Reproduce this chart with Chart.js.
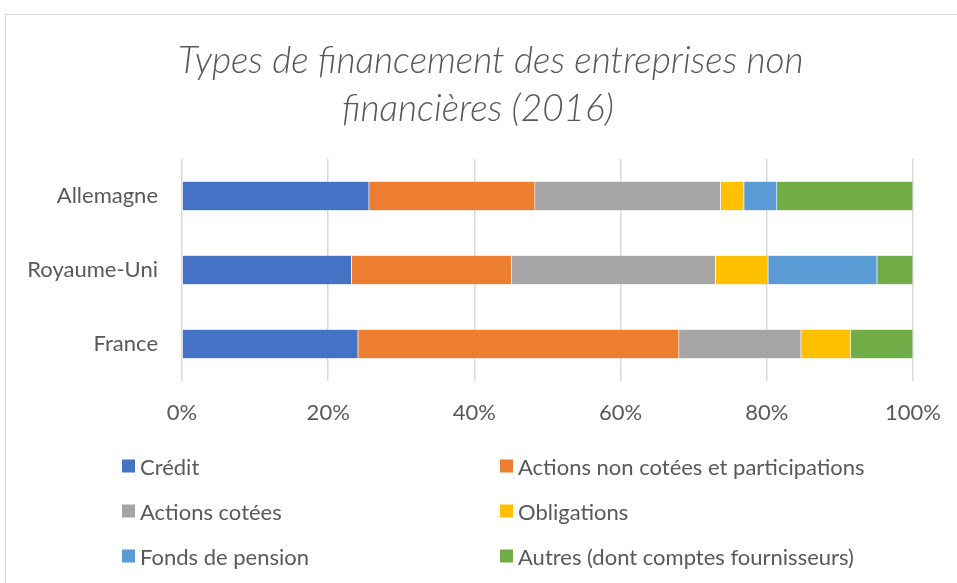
<!DOCTYPE html>
<html>
<head>
<meta charset="utf-8">
<script src="https://cdn.jsdelivr.net/npm/chart.js@4/dist/chart.umd.min.js"></script>
<style>
  html, body { margin: 0; padding: 0; background: #fff; }
  #wrap { position: relative; width: 957px; height: 583px; overflow: hidden; background: #fff; }
  #frame { position: absolute; left: 5px; top: 14px; width: 1200px; height: 800px; border: 1px solid #d9d9d9; box-sizing: border-box; }
  canvas { position: absolute; left: 0; top: 0; }
  #title { position: absolute; left: 178px; width: 600px; top: 35px; text-align: center; font-family: Lato, "Open Sans", sans-serif; font-style: italic; font-weight: 300; font-size: 37px; line-height: 48px; color: #595959; white-space: nowrap; }
  .lg { position: absolute; display: flex; align-items: center; font-family: Lato, "Open Sans", sans-serif; font-size: 22px; color: #595959; white-space: nowrap; transform: translateY(-50%); }
  .lg span.box { display: inline-block; width: 13px; height: 13px; margin-right: 5px; }
</style>
</head>
<body>
<div id="wrap">
  <div id="frame"></div>
  <canvas id="c" width="957" height="583"></canvas>
  <div id="title"></div>
  <div id="legend"></div>
</div>
<script>
const categories = ['Allemagne', 'Royaume-Uni', 'France'];
const seriesNames = ['Crédit', 'Actions non cotées et participations', 'Actions cotées', 'Obligations', 'Fonds de pension', 'Autres (dont comptes fournisseurs)'];
const credit = [25.6, 23.2, 24.1];
const actionsNonCotees = [22.7, 21.9, 43.9];
const actionsCotees = [25.4, 27.9, 16.7];
const obligations = [3.2, 7.2, 6.8];
const fondsPension = [4.5, 14.9, 0];
const autres = [18.6, 4.9, 8.5];
const tickLabels = ['0%', '20%', '40%', '60%', '80%', '100%'];
const colors = ['#4472C4', '#ED7D31', '#A5A5A5', '#FFC000', '#5B9BD5', '#70AD47'];
const titleLines = ['Types de financement des entreprises non', 'financières (2016)'];

const seriesValues = [credit, actionsNonCotees, actionsCotees, obligations, fondsPension, autres];
const datasets = seriesValues.map((vals, i) => ({
  label: seriesNames[i],
  data: vals,
  backgroundColor: colors[i],
  borderColor: 'rgba(255,255,255,0.5)',
  borderWidth: 0.6,
  barPercentage: 0.4,
  categoryPercentage: 1.0
}));

const FONT = 'Lato, "Open Sans", sans-serif';
const chart = new Chart(document.getElementById('c'), {
  type: 'bar',
  data: { labels: categories, datasets: datasets },
  options: {
    indexAxis: 'y',
    responsive: false,
    animation: false,
    layout: { padding: { left: 0, right: 44, top: 159, bottom: 152 } },
    plugins: {
      legend: { display: false },
      tooltip: { enabled: false },
      title: { display: false }
    },
    scales: {
      x: {
        stacked: true,
        min: 0,
        max: 100,
        ticks: {
          stepSize: 20,
          padding: 19,
          color: '#595959',
          font: { family: FONT, size: 22 },
          callback: (v) => tickLabels[Math.round(v / 20)]
        },
        grid: { color: '#d9d9d9', lineWidth: 1.5, drawTicks: false },
        border: { display: false },
        afterFit: (s) => { s.height = 50; s.paddingLeft = 0; s.paddingRight = 0; }
      },
      y: {
        stacked: true,
        ticks: { padding: 24, color: '#595959', font: { family: FONT, size: 22 } },
        grid: { display: false, drawTicks: false },
        border: { display: false },
        afterFit: (s) => { s.width = 182; }
      }
    }
  }
});

// Title as real text
const titleEl = document.getElementById('title');
titleLines.forEach((t) => { const d = document.createElement('div'); d.textContent = t; titleEl.appendChild(d); });

// HTML legend (two columns, three rows) built from the chart's datasets
const legend = document.getElementById('legend');
const colX = [122, 500];
const rowY = [466, 511, 556];
chart.data.datasets.forEach((ds, i) => {
  const el = document.createElement('div');
  el.className = 'lg';
  el.style.left = colX[i % 2] + 'px';
  el.style.top = rowY[Math.floor(i / 2)] + 'px';
  const b = document.createElement('span');
  b.className = 'box';
  b.style.background = ds.backgroundColor;
  el.appendChild(b);
  el.appendChild(document.createTextNode(ds.label));
  legend.appendChild(el);
});
</script>
</body>
</html>
